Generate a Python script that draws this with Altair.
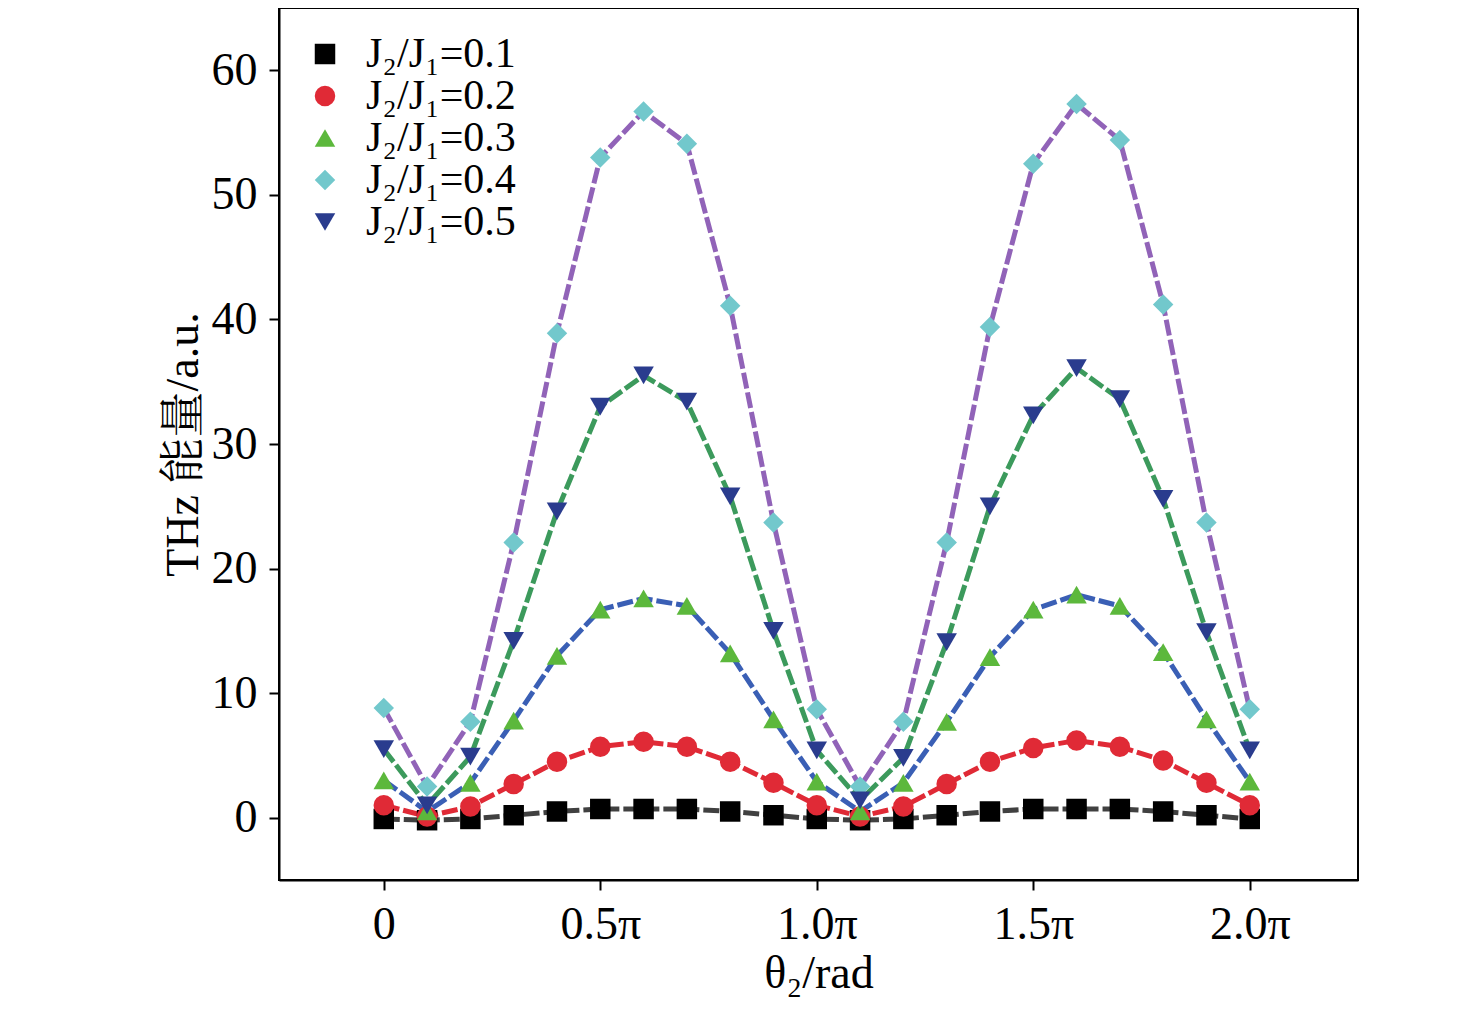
import altair as alt
import pandas as pd

theta = [round(i * 0.1, 1) for i in range(21)]  # in units of pi

s01 = [-0.1, -0.2, -0.1, 0.2, 0.5, 0.7, 0.7, 0.7, 0.5, 0.2, -0.1, -0.2, -0.1, 0.2, 0.5, 0.7, 0.7, 0.7, 0.5, 0.2, -0.1]
s02 = [1.0, 0.1, 0.9, 2.7, 4.5, 5.7, 6.1, 5.7, 4.5, 2.8, 1.0, 0.1, 0.9, 2.7, 4.5, 5.6, 6.2, 5.7, 4.6, 2.8, 1.0]
s03 = [3.0, 0.5, 2.8, 7.8, 13.0, 16.7, 17.6, 17.0, 13.2, 7.9, 2.9, 0.5, 2.8, 7.7, 12.9, 16.7, 17.9, 17.0, 13.3, 7.9, 2.9]
s04 = [8.8, 2.5, 7.7, 22.1, 38.9, 53.0, 56.7, 54.1, 41.1, 23.7, 8.7, 2.5, 7.7, 22.1, 39.4, 52.5, 57.3, 54.4, 41.2, 23.7, 8.7]
s05 = [5.5, 1.0, 4.9, 14.2, 24.6, 33.0, 35.5, 33.4, 25.8, 15.0, 5.4, 1.4, 4.8, 14.1, 25.0, 32.3, 36.1, 33.6, 25.6, 14.9, 5.4]

labels = ["J₂/J₁=0.1", "J₂/J₁=0.2", "J₂/J₁=0.3", "J₂/J₁=0.4", "J₂/J₁=0.5"]
line_colors = ["#404040", "#e02a36", "#3a5fb5", "#9163b8", "#3c9a5c"]
marker_colors = ["#000000", "#e02a36", "#5cb83c", "#72c8cc", "#2a3c8e"]
shapes = ["square", "circle", "triangle-up", "diamond", "triangle-down"]

rows = []
for lab, vals in zip(labels, [s01, s02, s03, s04, s05]):
    for t, v in zip(theta, vals):
        rows.append({"theta": t, "value": v, "series": lab})
df = pd.DataFrame(rows)

font = "Liberation Serif, Noto Serif CJK SC, Noto Sans CJK SC"

x = alt.X("theta:Q", title="θ₂/rad",
          scale=alt.Scale(domain=[-0.242, 2.25], nice=False, zero=False),
          axis=alt.Axis(values=[0, 0.5, 1.0, 1.5, 2.0],
                        labelExpr="datum.value == 0 ? '0' : format(datum.value, '.1f') + 'π'"))
y = alt.Y("value:Q", title="THz 能量/a.u.",
          scale=alt.Scale(domain=[-5, 65], nice=False),
          axis=alt.Axis(values=[0, 10, 20, 30, 40, 50, 60]))

base = alt.Chart(df)
lines = base.mark_line(strokeWidth=5, strokeDash=[16, 4]).encode(
    x=x, y=y,
    color=alt.Color("series:N", scale=alt.Scale(domain=labels, range=line_colors), legend=None),
)
points = base.mark_point(filled=True, size=420, opacity=1).encode(
    x=x, y=y,
    fill=alt.Fill("series:N", scale=alt.Scale(domain=labels, range=marker_colors),
                  legend=alt.Legend(title=None, orient="top-left", offset=25)),
    shape=alt.Shape("series:N", scale=alt.Scale(domain=labels, range=shapes)),
)

chart = (
    alt.layer(lines, points)
    .resolve_scale(color="independent")
    .properties(width=1079, height=872, background="white",
                padding={"left": 152, "top": 0, "right": 5, "bottom": 5})
    .configure_view(stroke="black", strokeWidth=2)
    .configure_axis(labelFont=font, titleFont=font, labelFontSize=46, titleFontSize=46,
                    labelColor="black", titleColor="black", titleFontWeight="normal",
                    grid=False, domainColor="black", domainWidth=2, tickColor="black",
                    tickWidth=2, tickSize=10, labelPadding=12)
    .configure_legend(labelFont=font, labelFontSize=42, labelColor="black",
                      symbolSize=420, rowPadding=0, padding=0, labelOffset=20)
)
chart.save("out.html", embed_options={"renderer": "svg", "actions": False})
